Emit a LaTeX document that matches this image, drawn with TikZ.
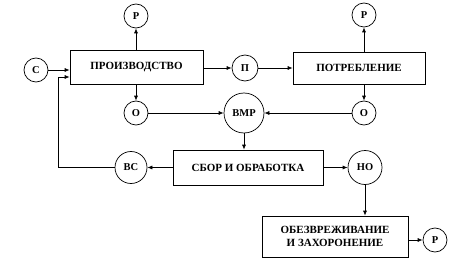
\documentclass[tikz,border=0pt]{standalone}
\usepackage{fontspec}
\setmainfont{Liberation Serif}
\usetikzlibrary{arrows.meta}
\begin{document}
\begin{tikzpicture}[x=1pt,y=-1pt,
  box/.style={draw, line width=0.7pt, inner sep=0pt, align=center, font=\bfseries\fontsize{11}{12.5}\selectfont},
  circ/.style={draw, circle, line width=0.7pt, inner sep=0pt, font=\bfseries\fontsize{10.5}{11}\selectfont},
  arr/.style={-{Latex[length=5pt,width=4pt]}, line width=0.7pt}]
\useasboundingbox (0,0) rectangle (466,270);
% boxes
\node[box, minimum width=133pt, minimum height=34pt] (prod) at (136.5,67) {ПРОИЗВОДСТВО};
\node[box, minimum width=132pt, minimum height=32pt] (potr) at (359,68) {ПОТРЕБЛЕНИЕ};
\node[box, minimum width=150pt, minimum height=35pt] (sbor) at (248,167.5) {СБОР И ОБРАБОТКА};
\node[box, minimum width=146pt, minimum height=41pt] (obez) at (335,236.5) {ОБЕЗВРЕЖИВАНИЕ\\И ЗАХОРОНЕНИЕ};
% circles
\node[circ, minimum size=24pt] (p1) at (136,16) {Р};
\node[circ, minimum size=24pt] (c) at (36,70) {С};
\node[circ, minimum size=24pt] (o1) at (136,113) {О};
\node[circ, minimum size=26pt] (pm) at (245,68) {П};
\node[circ, minimum size=24pt] (p2) at (364,15) {Р};
\node[circ, minimum size=24pt] (o2) at (364,113) {О};
\node[circ, minimum size=40pt] (vmr) at (244,113) {ВМР};
\node[circ, minimum size=32pt] (vc) at (131,167.5) {ВС};
\node[circ, minimum size=34pt] (no) at (365,167.5) {НО};
\node[circ, minimum size=24pt] (p3) at (435,240) {Р};
\coordinate (fb) at (58,77);
% connectors
\draw[arr] (p1 |- prod.north) -- (p1.south);
\draw[arr] (c.east) -- (c.east -| prod.west);
\draw[arr] (o1 |- prod.south) -- (o1.north);
\draw[arr] (o1.east) -- (vmr.west);
\draw[arr] (prod.east |- pm) -- (pm.west);
\draw[arr] (pm.east) -- (pm -| potr.west);
\draw[arr] (p2 |- potr.north) -- (p2.south);
\draw[arr] (o2 |- potr.south) -- (o2.north);
\draw[arr] (o2.west) -- (vmr.east);
\draw[arr] (vmr.south) -- (vmr |- sbor.north);
\draw[arr] (sbor.west) -- (vc.east);
\draw[arr] (vc.west) -| (fb) -- (fb -| prod.west);
\draw[arr] (sbor.east) -- (no.west);
\draw[arr] (no.south) -- (no |- obez.north);
\draw[arr] (obez.east |- p3) -- (p3.west);
\end{tikzpicture}
\end{document}
